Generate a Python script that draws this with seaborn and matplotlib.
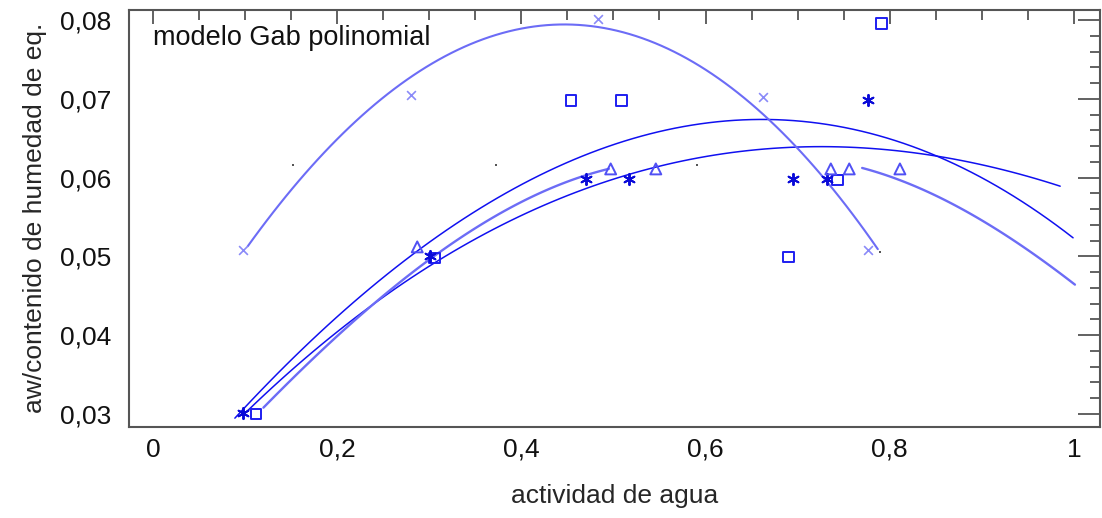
import numpy as np
import pandas as pd
import matplotlib
matplotlib.use("Agg")
import matplotlib.pyplot as plt
import seaborn as sns
from matplotlib.ticker import MultipleLocator

# ---------------- data ----------------
x_cruz = [0.098, 0.280, 0.483, 0.662, 0.776]
y_cruz = [0.0508, 0.0705, 0.0801, 0.0702, 0.0508]

x_cuad = [0.112, 0.306, 0.454, 0.509, 0.690, 0.743, 0.791]
y_cuad = [0.0300, 0.0498, 0.0698, 0.0698, 0.0499, 0.0597, 0.0796]

x_ast = [0.098, 0.301, 0.470, 0.517, 0.695, 0.732, 0.776]
y_ast = [0.0301, 0.0500, 0.0598, 0.0598, 0.0598, 0.0598, 0.0698]

x_tri = [0.287, 0.497, 0.546, 0.736, 0.756, 0.811]
y_tri = [0.0512, 0.0611, 0.0611, 0.0611, 0.0611, 0.0611]

x_pto = [0.152, 0.372, 0.591, 0.789]
y_pto = [0.0616, 0.0616, 0.0616, 0.0506]

# fitted model curves
A_x = [0.089, 0.169, 0.226, 0.299, 0.386, 0.473, 0.560, 0.669, 0.811, 0.898, 0.952, 0.999]
A_y = [0.0301, 0.0381, 0.0445, 0.0521, 0.0584, 0.0635, 0.0660, 0.0672, 0.0644, 0.0600, 0.0563, 0.0525]

B_x = [0.103, 0.169, 0.313, 0.386, 0.473, 0.560, 0.640, 0.702, 0.775, 0.811, 0.898, 0.985]
B_y = [0.0301, 0.0381, 0.0487, 0.0550, 0.0591, 0.0613, 0.0633, 0.0639, 0.0638, 0.0635, 0.0616, 0.0589]

C_x = [0.120, 0.190, 0.234, 0.299, 0.372, 0.444, 0.473, 0.495]
C_y = [0.0310, 0.0381, 0.0436, 0.0502, 0.0546, 0.0591, 0.0606, 0.0611]

C2_x = [0.770, 0.789, 0.832, 0.879, 0.934, 1.001]
C2_y = [0.0612, 0.0606, 0.0587, 0.0559, 0.0521, 0.0464]

D_x = [0.103, 0.155, 0.209, 0.270, 0.335, 0.408, 0.459, 0.477, 0.531, 0.585, 0.640, 0.672, 0.716, 0.753, 0.787]
D_y = [0.0509, 0.0597, 0.0660, 0.0720, 0.0759, 0.0787, 0.0796, 0.0796, 0.0778, 0.0749, 0.0702, 0.0671, 0.0613, 0.0563, 0.0511]

x_ticks = [0, 0.2, 0.4, 0.6, 0.8, 1.0]
x_tick_labels = ["0", "0,2", "0,4", "0,6", "0,8", "1"]
y_ticks = [0.03, 0.04, 0.05, 0.06, 0.07, 0.08]
y_tick_labels = ["0,03", "0,04", "0,05", "0,06", "0,07", "0,08"]

titulo = "modelo Gab polinomial"
x_label = "actividad de agua"
y_label = "aw/contenido de humedad de eq."

# ---------------- style ----------------
sns.set_theme(style="white")
plt.rcParams["font.family"] = ["Liberation Sans", "DejaVu Sans"]
plt.rcParams["text.color"] = "#111111"

fig = plt.figure(figsize=(11.02, 5.18), dpi=100)
ax = fig.add_axes([0.117, 0.176, 0.881, 0.805])

dark = "#1010f0"
light = "#6c6cf6"

# curves
for cx, cy, col, lw in [(A_x, A_y, dark, 1.1), (B_x, B_y, dark, 1.1),
                        (C_x, C_y, light, 1.7), (C2_x, C2_y, light, 1.7),
                        (D_x, D_y, light, 1.5)]:
    sns.regplot(x=np.array(cx), y=np.array(cy), order=3, ci=None, scatter=False,
                truncate=True, ax=ax, line_kws=dict(color=col, lw=lw))

# markers
sns.scatterplot(x=x_cruz, y=y_cruz, marker="x", s=40, color="#8a8af8",
                linewidth=1.2, ax=ax, zorder=5)
sns.scatterplot(x=x_cuad, y=y_cuad, marker="s", s=58, facecolor="none",
                edgecolor="#1e1ef0", linewidth=1.4, ax=ax, zorder=5)
sns.scatterplot(x=x_ast, y=y_ast, marker=(6, 2, 0), s=65, color="#0a0ad8",
                edgecolor="#0a0ad8", linewidth=1.4, ax=ax, zorder=5)
sns.scatterplot(x=x_tri, y=y_tri, marker="^", s=62, facecolor="none",
                edgecolor="#5050f4", linewidth=1.4, ax=ax, zorder=5)
sns.scatterplot(x=x_pto, y=y_pto, marker="s", s=2, color="#555555",
                linewidth=0, ax=ax, zorder=4)

# axes
ax.set_xlim(-0.026, 1.028)
ax.set_ylim(0.02835, 0.0813)
ax.set_xticks(x_ticks, x_tick_labels)
ax.set_yticks(y_ticks, y_tick_labels)
ax.xaxis.set_minor_locator(MultipleLocator(0.05))
ax.yaxis.set_minor_locator(MultipleLocator(0.002))
ax.tick_params(axis="both", which="both", direction="in", colors="#555555",
               labelcolor="#111111", labelsize=19, top=True, right=True,
               width=1.3)
ax.tick_params(axis="x", which="major", length=10, pad=8)
ax.tick_params(axis="x", which="minor", length=7)
ax.tick_params(axis="y", which="major", length=16, pad=13)
ax.tick_params(axis="y", which="minor", length=7)
for s in ax.spines.values():
    s.set_color("#555555")
    s.set_linewidth(1.5)

ax.set_xlabel(x_label, fontsize=19, labelpad=16)
ax.set_ylabel(y_label, fontsize=19, labelpad=9)
ax.text(0.025, 0.933, titulo, transform=ax.transAxes, fontsize=19.5,
        ha="left", va="center", color="#111111")

fig.savefig("out.png", dpi=100, facecolor="white")
